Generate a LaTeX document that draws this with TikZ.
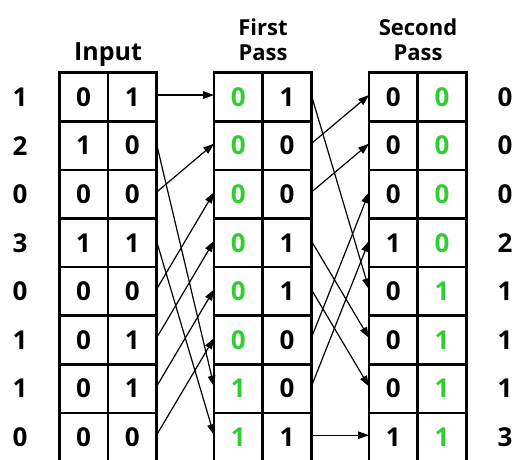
\documentclass[tikz,border=0pt]{standalone}
\usepackage{fontspec}
\setmainfont{Open Sans}
\usetikzlibrary{arrows.meta}
\definecolor{bitgreen}{RGB}{50,205,50}
\begin{document}
\begin{tikzpicture}[x=1pt,y=-1pt,
  cell/.style={draw=black,line width=2.6pt,minimum width=48.6pt,minimum height=48.6pt,inner sep=0pt,outer sep=0pt,font=\fontsize{26}{26}\bfseries\selectfont},
  gcell/.style={cell,text=bitgreen},
  lab/.style={font=\fontsize{26}{26}\bfseries\selectfont,inner sep=0pt},
  head/.style={font=\fontsize{22}{25}\bfseries\selectfont,align=center,inner sep=0pt},
  conn/.style={line width=1.2pt,-{Triangle[length=11pt,width=7.5pt]}}]
\useasboundingbox (0,0) rectangle (517,459);
% data
\def\inA{{0,1,0,1,0,0,0,0}}
\def\inB{{1,0,0,1,0,1,1,0}}
\def\fpA{{0,0,0,0,0,0,1,1}}
\def\fpB{{1,0,0,1,1,0,0,1}}
\def\spA{{0,0,0,1,0,0,0,1}}
\def\spB{{0,0,0,0,1,1,1,1}}
\def\lval{{1,2,0,3,0,1,1,0}}
\def\rval{{0,0,0,2,1,1,1,3}}
\foreach \i in {1,...,8}{
  \pgfmathsetmacro\yy{72.7+48.6*(\i-0.5)}
  \pgfmathtruncatemacro\a{\inA[\i-1]}
  \pgfmathtruncatemacro\b{\inB[\i-1]}
  \pgfmathtruncatemacro\c{\fpA[\i-1]}
  \pgfmathtruncatemacro\d{\fpB[\i-1]}
  \pgfmathtruncatemacro\e{\spA[\i-1]}
  \pgfmathtruncatemacro\f{\spB[\i-1]}
  \pgfmathtruncatemacro\l{\lval[\i-1]}
  \pgfmathtruncatemacro\r{\rval[\i-1]}
  \node[cell] (ia\i) at (83.6,\yy) {\a};
  \node[cell] (ib\i) at (132.2,\yy) {\b};
  \node[gcell] (fa\i) at (238.4,\yy) {\c};
  \node[cell] (fb\i) at (287.0,\yy) {\d};
  \node[cell] (sa\i) at (393.4,\yy) {\e};
  \node[gcell] (sb\i) at (442.0,\yy) {\f};
  \node[lab] (l\i) at (20,\yy) {\l};
  \node[lab] (r\i) at (505,\yy) {\r};
}
\node[head,font=\fontsize{25}{25}\bfseries\selectfont,anchor=base] (hin) at (108,60) {Input};
\node[head,anchor=base] (hfp) at (263,60) {First\\Pass};
\node[head,anchor=base] (hsp) at (418,60) {Second\\Pass};
% first pass connections
\foreach \s/\t in {1/1,3/2,5/3,6/4,7/5,8/6,2/7,4/8}{
  \draw[conn] ([yshift=2pt]ib\s.east) -- ([yshift=2pt]fa\t.west);
}
% second pass connections
\foreach \s/\t in {2/1,3/2,6/3,7/4,1/5,4/6,5/7,8/8}{
  \draw[conn] ([yshift=2pt]fb\s.east) -- ([yshift=2pt]sa\t.west);
}
\end{tikzpicture}
\end{document}
